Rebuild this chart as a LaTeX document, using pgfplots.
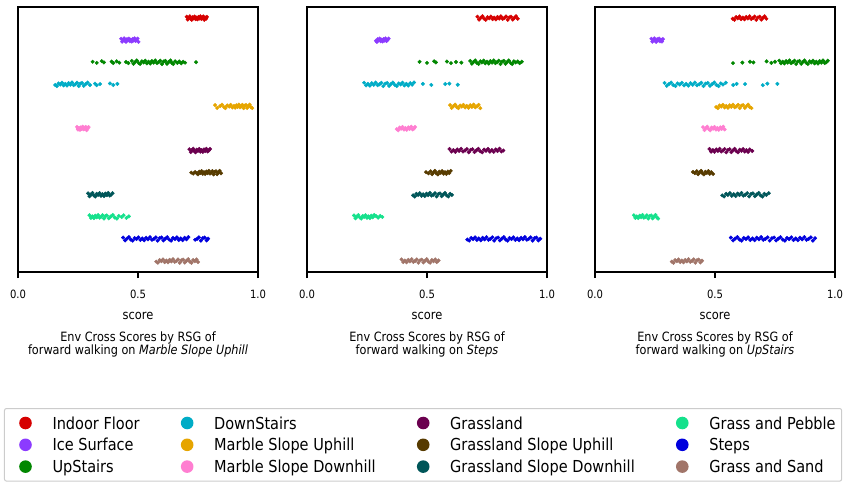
\documentclass[border=0pt]{standalone}
\usepackage{fontspec}
\setmainfont{DejaVu Sans}[FakeStretch=0.88]
\usepackage{pgfplots}
\pgfplotsset{compat=1.18}
\definecolor{cIF}{HTML}{D60000}
\definecolor{cIce}{HTML}{8C3BFF}
\definecolor{cUp}{HTML}{018700}
\definecolor{cDown}{HTML}{00ACC6}
\definecolor{cMSU}{HTML}{E6A500}
\definecolor{cMSD}{HTML}{FF7ED1}
\definecolor{cG}{HTML}{6B004F}
\definecolor{cGSU}{HTML}{573B00}
\definecolor{cGSD}{HTML}{005659}
\definecolor{cGP}{HTML}{15E18C}
\definecolor{cSt}{HTML}{0000DD}
\definecolor{cGS}{HTML}{A17569}
\pgfplotsset{
  panel/.style={
    width=240bp, height=265bp, scale only axis, clip=false,
    xmin=0, xmax=1, ymin=-0.5, ymax=11.5,
    xtick={0,0.5,1}, xticklabels={0.0,0.5,1.0},
    ytick=\empty, xtick pos=bottom,
    tick align=outside, major tick length=6bp,
    axis line style={line width=1.1bp},
    xtick style={draw=black, line width=1.1bp},
    xticklabel style={font=\fontsize{11.4bp}{13bp}\selectfont, anchor=center, inner sep=0pt, yshift=-16bp},
    xlabel={score},
    xlabel style={font=\fontsize{13bp}{15bp}\selectfont, at={(0.5,-0.165)}, anchor=center},
    title style={font=\fontsize{12.8bp}{13.8bp}\selectfont, align=center, at={(0.5,-0.296)}, anchor=center, yshift=0pt},
  },
  strip/.style={only marks, mark=*, mark size=1.8bp, color=#1, forget plot},
}
\newcommand{\legdot}[1]{\addlegendimage{legend image code/.code={\path[draw=none] (-15bp,0bp) -- (15bp,0bp); \fill[draw=none,#1] (0bp,0bp) circle (6.3bp);}}}
\newcommand{\ticksof}[1]{\draw[black, line width=1.1bp] (#1.south west) -- ++(0,-6bp) (#1.south) -- ++(0,-6bp) (#1.south east) -- ++(0,-6bp);}
\begin{document}
\begin{tikzpicture}
\useasboundingbox (0,0) rectangle (845bp,-482bp);
%================ Panel 1
\begin{axis}[panel, name=ax1, at={(18bp,-7bp)}, anchor=north west,
  title={Env Cross Scores by RSG of\\forward walking on \textit{Marble Slope Uphill}},
  legend columns=4, legend cell align=left,
  legend style={at={(-0.05833,-0.5132)}, anchor=north west, draw=black!20, line width=1bp,
    rounded corners=2bp, inner xsep=6bp, inner ysep=8.2bp, row sep=9.2bp,
    font=\fontsize{16.5bp}{19bp}\selectfont,
    nodes={inner sep=0pt, text height=12bp, text depth=0bp},
    /tikz/every odd column/.append style={column sep=12bp},
    /tikz/every even column/.append style={column sep=32.5bp}}]
\addplot[strip=cIF] coordinates {(0.703,11.06)(0.707,10.93)(0.712,11.01)(0.716,11.08)(0.719,10.97)(0.724,10.92)(0.728,11.04)(0.731,10.99)(0.736,11.07)(0.740,10.95)(0.743,11.02)(0.748,10.94)(0.752,11.05)(0.755,10.98)(0.760,11.08)(0.764,10.96)(0.767,11.00)(0.772,11.07)(0.776,10.92)(0.779,11.03)(0.784,10.97)(0.787,11.05)};
\addplot[strip=cIce] coordinates {(0.430,10.06)(0.434,9.93)(0.438,10.01)(0.442,10.08)(0.446,9.97)(0.450,9.92)(0.454,10.04)(0.458,9.99)(0.462,10.07)(0.466,9.95)(0.470,10.02)(0.474,9.94)(0.478,10.05)(0.482,9.98)(0.486,10.08)(0.490,9.96)(0.494,10.00)(0.498,10.07)(0.502,9.92)};
\addplot[strip=cUp] coordinates {(0.311,9.02)(0.328,8.97)(0.349,9.05)(0.358,8.99)(0.390,9.03)(0.397,8.96)(0.411,9.04)(0.422,8.98)(0.450,9.01)(0.460,8.96)
(0.474,9.06)(0.481,8.93)(0.488,9.01)(0.495,9.08)(0.502,8.97)(0.509,8.92)(0.516,9.04)(0.523,8.99)(0.530,9.07)(0.537,8.95)(0.544,9.02)(0.551,8.94)(0.558,9.05)(0.565,8.98)(0.572,9.08)(0.579,8.96)(0.586,9.00)(0.593,9.07)(0.600,8.92)(0.607,9.03)(0.614,9.06)(0.621,8.93)(0.628,9.01)(0.635,9.08)(0.641,8.97)(0.647,8.92)
(0.655,9.04)(0.664,8.97)(0.672,9.03)(0.680,8.95)(0.688,9.02)(0.696,8.98)(0.742,9.00)};
\addplot[strip=cDown] coordinates {(0.155,7.97)(0.162,7.92)(0.169,8.04)(0.176,7.99)(0.183,8.07)(0.190,7.95)(0.197,8.02)(0.204,7.94)(0.211,8.05)(0.218,7.98)(0.225,8.08)(0.232,7.96)(0.239,8.00)(0.246,8.07)(0.253,7.92)(0.260,8.03)(0.267,8.06)(0.274,7.93)(0.282,8.01)(0.290,8.08)(0.300,7.97)
(0.321,8.03)(0.328,7.96)(0.342,8.01)(0.383,8.04)(0.397,7.97)(0.414,8.02)};
\addplot[strip=cMSU] coordinates {(0.821,7.06)(0.830,6.93)(0.842,7.01)(0.850,7.08)(0.858,6.97)(0.864,6.92)(0.872,7.04)(0.880,6.99)(0.886,7.07)(0.893,6.95)(0.900,7.02)(0.905,6.94)(0.910,7.05)(0.915,6.98)(0.920,7.08)(0.925,6.96)(0.930,7.00)(0.935,7.07)(0.940,6.92)(0.945,7.03)(0.950,7.06)(0.955,6.93)(0.960,7.01)(0.965,7.08)(0.970,6.97)(0.976,6.92)};
\addplot[strip=cMSD] coordinates {(0.246,6.07)(0.250,5.95)(0.254,6.02)(0.258,5.94)(0.262,6.05)(0.266,5.98)(0.270,6.08)(0.274,5.96)(0.278,6.00)(0.282,6.07)(0.286,5.92)(0.290,6.03)(0.294,6.06)(0.250,6.00)(0.262,5.97)(0.278,6.03)(0.290,5.99)};
\addplot[strip=cG] coordinates {(0.714,5.06)(0.720,4.93)(0.725,5.01)(0.730,5.08)(0.735,4.97)(0.740,4.92)(0.745,5.04)(0.750,4.99)(0.755,5.07)(0.760,4.95)(0.765,5.02)(0.770,4.94)(0.775,5.05)(0.780,4.98)(0.785,5.08)(0.790,4.96)(0.795,5.00)(0.800,5.07)};
\addplot[strip=cGSU] coordinates {(0.722,4.00)(0.730,3.96)(0.738,4.03)
(0.745,3.97)(0.750,3.92)(0.755,4.04)(0.760,3.99)(0.765,4.07)(0.770,3.95)(0.775,4.02)(0.780,3.94)(0.785,4.05)(0.790,3.98)(0.795,4.08)(0.800,3.96)(0.805,4.00)(0.810,4.07)(0.815,3.92)(0.820,4.03)(0.825,4.06)(0.830,3.93)(0.835,4.01)(0.840,4.08)(0.846,3.97)};
\addplot[strip=cGSD] coordinates {(0.292,3.06)(0.298,2.93)(0.304,3.01)(0.310,3.08)(0.316,2.97)(0.322,2.92)(0.328,3.04)(0.334,2.99)(0.340,3.07)(0.346,2.95)(0.352,3.02)(0.358,2.94)(0.364,3.05)(0.370,2.98)(0.376,3.08)(0.382,2.96)(0.388,3.00)(0.394,3.07)};
\addplot[strip=cGP] coordinates {(0.298,2.07)(0.304,1.95)(0.310,2.02)(0.316,1.94)(0.322,2.05)(0.328,1.98)(0.334,2.08)(0.340,1.96)(0.346,2.00)(0.352,2.07)(0.358,1.92)(0.364,2.03)(0.370,2.06)(0.378,1.93)(0.386,2.01)(0.395,2.08)(0.403,1.97)(0.412,1.92)(0.420,2.04)(0.432,1.99)(0.440,2.07)(0.452,1.95)(0.462,2.02)};
\addplot[strip=cSt] coordinates {(0.438,1.06)(0.446,0.93)(0.454,1.01)(0.462,1.08)(0.470,0.97)(0.478,0.92)(0.486,1.04)(0.494,0.99)(0.502,1.07)(0.510,0.95)(0.518,1.02)(0.526,0.94)(0.534,1.05)(0.542,0.98)(0.550,1.08)(0.558,0.96)(0.566,1.00)(0.574,1.07)(0.582,0.92)(0.590,1.03)(0.598,1.06)(0.606,0.93)(0.614,1.01)(0.622,1.08)(0.630,0.97)(0.638,0.92)(0.646,1.04)(0.654,0.99)(0.662,1.07)(0.670,0.95)(0.678,1.02)(0.686,0.94)(0.694,1.05)(0.702,0.98)(0.710,1.08)
(0.738,0.96)(0.746,1.00)(0.754,1.07)(0.762,0.92)(0.770,1.03)(0.778,1.06)(0.786,0.93)(0.792,1.01)};
\addplot[strip=cGS] coordinates {(0.576,-0.03)(0.583,-0.08)(0.590,0.04)(0.597,-0.01)(0.604,0.07)(0.611,-0.05)(0.618,0.02)(0.625,-0.06)(0.632,0.05)(0.639,-0.02)(0.646,0.08)(0.653,-0.04)(0.660,0.00)(0.667,0.07)(0.674,-0.08)(0.681,0.03)(0.688,0.06)(0.695,-0.07)(0.702,0.01)(0.709,0.08)(0.716,-0.03)(0.723,-0.08)(0.730,0.04)(0.737,-0.01)(0.744,0.07)(0.750,-0.05)};
% legend (row-major order)
\legdot{cIF}\addlegendentry{Indoor Floor}
\legdot{cDown}\addlegendentry{DownStairs}
\legdot{cG}\addlegendentry{Grassland}
\legdot{cGP}\addlegendentry{Grass and Pebble}
\legdot{cIce}\addlegendentry{Ice Surface}
\legdot{cMSU}\addlegendentry{Marble Slope Uphill}
\legdot{cGSU}\addlegendentry{Grassland Slope Uphill}
\legdot{cSt}\addlegendentry{Steps}
\legdot{cUp}\addlegendentry{UpStairs}
\legdot{cMSD}\addlegendentry{Marble Slope Downhill}
\legdot{cGSD}\addlegendentry{Grassland Slope Downhill}
\legdot{cGS}\addlegendentry{Grass and Sand}
\end{axis}
\ticksof{ax1}
%================ Panel 2
\begin{axis}[panel, name=ax2, at={(307bp,-7bp)}, anchor=north west,
  title={Env Cross Scores by RSG of\\forward walking on \textit{Steps}}]
\addplot[strip=cIF] coordinates {(0.710,11.06)(0.717,10.93)(0.724,11.01)(0.731,11.08)(0.738,10.97)(0.745,10.92)(0.752,11.04)(0.759,10.99)(0.766,11.07)(0.773,10.95)(0.780,11.02)(0.787,10.94)(0.794,11.05)(0.801,10.98)(0.808,11.08)(0.815,10.96)(0.822,11.00)(0.829,11.07)(0.836,10.92)(0.843,11.03)(0.850,11.06)(0.857,10.93)(0.864,11.01)(0.871,11.08)(0.878,10.97)};
\addplot[strip=cIce] coordinates {(0.287,9.97)(0.291,9.92)(0.295,10.04)(0.299,9.99)(0.303,10.07)(0.307,9.95)(0.311,10.02)(0.315,9.94)(0.319,10.05)(0.323,9.98)(0.327,10.08)(0.331,9.96)(0.335,10.00)(0.340,10.07)};
\addplot[strip=cUp] coordinates {(0.469,9.02)(0.500,8.97)(0.530,9.04)(0.537,8.99)(0.583,9.03)(0.600,8.96)(0.621,9.01)(0.643,8.98)
(0.680,9.06)(0.687,8.93)(0.694,9.01)(0.701,9.08)(0.708,8.97)(0.715,8.92)(0.722,9.04)(0.729,8.99)(0.736,9.07)(0.743,8.95)(0.750,9.02)(0.757,8.94)(0.764,9.05)(0.771,8.98)(0.778,9.08)(0.785,8.96)(0.792,9.00)(0.799,9.07)(0.806,8.92)(0.813,9.03)(0.820,9.06)(0.827,8.93)(0.834,9.01)(0.841,9.08)(0.848,8.97)(0.855,8.92)(0.862,9.04)(0.869,8.99)
(0.878,9.03)(0.886,8.96)(0.895,9.02)};
\addplot[strip=cDown] coordinates {(0.238,8.07)(0.246,7.95)(0.254,8.02)(0.262,7.94)(0.270,8.05)(0.278,7.98)(0.286,8.08)(0.294,7.96)(0.302,8.00)(0.310,8.07)(0.318,7.92)(0.326,8.03)(0.334,8.06)(0.342,7.93)(0.350,8.01)(0.358,8.08)(0.366,7.97)(0.374,7.92)(0.382,8.04)(0.390,7.99)(0.398,8.07)(0.406,7.95)(0.414,8.02)(0.422,7.94)(0.430,8.05)(0.438,7.98)(0.446,8.08)
(0.483,8.02)(0.518,7.97)(0.576,8.01)(0.593,8.03)(0.628,7.98)};
\addplot[strip=cMSU] coordinates {(0.596,7.06)(0.603,6.93)(0.610,7.01)(0.617,7.08)(0.624,6.97)(0.631,6.92)(0.638,7.04)(0.645,6.99)(0.652,7.07)(0.659,6.95)(0.666,7.02)(0.673,6.94)(0.680,7.05)(0.687,6.98)(0.694,7.08)(0.701,6.96)(0.708,7.00)(0.715,7.07)(0.722,6.92)};
\addplot[strip=cMSD] coordinates {(0.374,5.97)(0.380,5.92)(0.386,6.04)(0.392,5.99)(0.398,6.07)(0.404,5.95)(0.410,6.02)(0.416,5.94)(0.422,6.05)(0.428,5.98)(0.434,6.08)(0.440,5.96)(0.446,6.00)(0.450,6.07)};
\addplot[strip=cG] coordinates {(0.594,5.07)(0.602,4.95)(0.610,5.02)(0.618,4.94)(0.626,5.05)(0.634,4.98)(0.642,5.08)(0.650,4.96)(0.658,5.00)(0.666,5.07)(0.674,4.92)(0.682,5.03)(0.690,5.06)(0.698,4.93)(0.706,5.01)(0.714,5.08)(0.722,4.97)(0.730,4.92)(0.738,5.04)(0.746,4.99)(0.754,5.07)(0.762,4.95)(0.770,5.02)(0.778,4.94)(0.786,5.05)(0.794,4.98)(0.802,5.08)(0.810,4.96)(0.818,5.00)};
\addplot[strip=cGSU] coordinates {(0.496,4.02)(0.506,3.97)
(0.515,4.06)(0.521,3.93)(0.527,4.01)(0.533,4.08)(0.539,3.97)(0.545,3.92)(0.551,4.04)(0.557,3.99)(0.563,4.07)(0.569,3.95)(0.575,4.02)(0.581,3.94)(0.587,4.05)(0.593,3.98)(0.599,4.08)};
\addplot[strip=cGSD] coordinates {(0.442,2.97)(0.449,2.92)(0.456,3.04)(0.463,2.99)(0.470,3.07)(0.477,2.95)(0.484,3.02)(0.491,2.94)(0.498,3.05)(0.505,2.98)(0.512,3.08)(0.519,2.96)(0.526,3.00)(0.533,3.07)(0.540,2.92)(0.547,3.03)(0.554,3.06)(0.561,2.93)(0.568,3.01)(0.575,3.08)(0.582,2.97)(0.589,2.92)(0.596,3.04)(0.604,2.99)};
\addplot[strip=cGP] coordinates {(0.196,2.06)(0.202,1.93)(0.208,2.01)(0.214,2.08)(0.220,1.97)(0.226,1.92)(0.232,2.04)(0.238,1.99)(0.244,2.07)(0.250,1.95)(0.256,2.02)(0.262,1.94)(0.268,2.05)(0.274,1.98)(0.280,2.08)
(0.288,2.03)(0.296,1.96)(0.305,2.04)(0.314,1.99)};
\addplot[strip=cSt] coordinates {(0.668,0.97)(0.676,0.92)(0.684,1.04)(0.692,0.99)(0.700,1.07)(0.708,0.95)(0.716,1.02)(0.724,0.94)(0.732,1.05)(0.740,0.98)(0.748,1.08)(0.756,0.96)(0.764,1.00)(0.772,1.07)(0.780,0.92)(0.788,1.03)(0.796,1.06)(0.804,0.93)(0.812,1.01)(0.820,1.08)(0.828,0.97)(0.836,0.92)(0.844,1.04)(0.852,0.99)(0.860,1.07)(0.868,0.95)(0.876,1.02)(0.884,0.94)(0.892,1.05)(0.900,0.98)(0.908,1.08)(0.916,0.96)(0.924,1.00)(0.932,1.07)(0.940,0.92)(0.948,1.03)(0.956,1.06)(0.964,0.93)(0.972,1.01)};
\addplot[strip=cGS] coordinates {(0.394,0.07)(0.401,-0.05)(0.408,0.02)(0.415,-0.06)(0.422,0.05)(0.429,-0.02)(0.436,0.08)(0.443,-0.04)(0.450,0.00)(0.457,0.07)(0.464,-0.08)(0.471,0.03)(0.478,0.06)(0.485,-0.07)(0.492,0.01)(0.499,0.08)(0.506,-0.03)(0.513,-0.08)(0.520,0.04)(0.527,-0.01)(0.534,0.07)(0.541,-0.05)(0.548,0.02)};
\end{axis}
\ticksof{ax2}
%================ Panel 3
\begin{axis}[panel, name=ax3, at={(595bp,-7bp)}, anchor=north west,
  title={Env Cross Scores by RSG of\\forward walking on \textit{UpStairs}}]
\addplot[strip=cIF] coordinates {(0.574,10.97)(0.581,10.92)(0.588,11.04)(0.595,10.99)(0.602,11.07)(0.609,10.95)(0.616,11.02)(0.623,10.94)(0.630,11.05)(0.637,10.98)(0.644,11.08)(0.651,10.96)(0.658,11.00)(0.665,11.07)(0.672,10.92)(0.679,11.03)(0.686,11.06)(0.693,10.93)(0.700,11.01)(0.707,11.08)(0.714,10.97)};
\addplot[strip=cIce] coordinates {(0.235,10.06)(0.239,9.93)(0.243,10.01)(0.247,10.08)(0.251,9.97)(0.255,9.92)(0.259,10.04)(0.263,9.99)(0.267,10.07)(0.271,9.95)(0.275,10.02)(0.279,9.94)(0.283,10.05)};
\addplot[strip=cUp] coordinates {(0.575,8.96)(0.614,8.98)(0.646,9.02)(0.660,8.99)(0.715,9.04)(0.735,8.97)(0.750,9.02)
(0.768,9.07)(0.775,8.95)(0.782,9.02)(0.789,8.94)(0.796,9.05)(0.803,8.98)(0.810,9.08)(0.817,8.96)(0.824,9.00)(0.831,9.07)(0.838,8.92)(0.845,9.03)(0.852,9.06)(0.859,8.93)(0.866,9.01)(0.873,9.08)(0.880,8.97)(0.887,8.92)(0.894,9.04)(0.901,8.99)(0.908,9.07)(0.915,8.95)(0.922,9.02)(0.929,8.94)(0.936,9.05)(0.943,8.98)(0.950,9.08)(0.957,8.96)(0.964,9.00)(0.970,9.07)};
\addplot[strip=cDown] coordinates {(0.290,8.06)(0.299,7.93)(0.308,8.01)(0.317,8.08)(0.326,7.97)(0.335,7.92)(0.344,8.04)(0.353,7.99)(0.362,8.07)(0.371,7.95)(0.380,8.02)(0.389,7.94)(0.398,8.05)(0.407,7.98)(0.416,8.08)(0.425,7.96)(0.434,8.00)(0.443,8.07)(0.452,7.92)(0.461,8.03)(0.470,8.06)(0.479,7.93)(0.488,8.01)(0.497,8.08)(0.506,7.97)(0.515,7.92)(0.524,8.04)(0.533,7.99)(0.545,8.07)
(0.576,7.97)(0.590,8.02)(0.625,8.01)(0.699,7.96)(0.718,8.03)(0.760,8.02)};
\addplot[strip=cMSU] coordinates {(0.505,6.97)(0.512,6.92)(0.519,7.04)(0.526,6.99)(0.533,7.07)(0.540,6.95)(0.547,7.02)(0.554,6.94)(0.561,7.05)(0.568,6.98)(0.575,7.08)(0.582,6.96)(0.589,7.00)(0.596,7.07)(0.603,6.92)(0.610,7.03)(0.617,7.06)(0.624,6.93)(0.631,7.01)(0.638,7.08)(0.645,6.97)(0.652,6.92)};
\addplot[strip=cMSD] coordinates {(0.450,6.06)(0.456,5.93)(0.462,6.01)(0.468,6.08)(0.474,5.97)(0.480,5.92)(0.486,6.04)(0.492,5.99)(0.498,6.07)(0.504,5.95)(0.510,6.02)(0.516,5.94)(0.522,6.05)(0.528,5.98)(0.534,6.08)(0.540,5.96)};
\addplot[strip=cG] coordinates {(0.477,5.07)(0.484,4.95)(0.491,5.02)(0.498,4.94)(0.505,5.05)(0.512,4.98)(0.519,5.08)(0.526,4.96)(0.533,5.00)(0.540,5.07)(0.547,4.92)(0.554,5.03)(0.561,5.06)(0.568,4.93)(0.575,5.01)(0.582,5.08)(0.589,4.97)(0.596,4.92)(0.603,5.04)(0.610,4.99)(0.617,5.07)(0.624,4.95)(0.631,5.02)(0.638,4.94)(0.645,5.05)(0.655,4.98)};
\addplot[strip=cGSU] coordinates {(0.408,4.03)(0.416,3.98)
(0.424,4.06)(0.430,3.93)(0.436,4.01)(0.442,4.08)(0.448,3.97)(0.454,3.92)(0.460,4.04)(0.466,3.99)(0.472,4.07)(0.478,3.95)(0.484,4.02)(0.492,3.94)};
\addplot[strip=cGSD] coordinates {(0.530,2.97)(0.538,2.92)(0.546,3.04)(0.554,2.99)(0.562,3.07)(0.570,2.95)(0.578,3.02)(0.586,2.94)(0.594,3.05)(0.602,2.98)(0.610,3.08)(0.618,2.96)(0.626,3.00)(0.634,3.07)(0.642,2.92)(0.650,3.03)(0.658,3.06)(0.666,2.93)(0.674,3.01)(0.682,3.08)(0.690,2.97)(0.698,2.92)(0.706,3.04)(0.714,2.99)(0.724,3.07)};
\addplot[strip=cGP] coordinates {(0.162,2.07)(0.168,1.95)(0.174,2.02)(0.180,1.94)(0.186,2.05)(0.192,1.98)(0.198,2.08)(0.204,1.96)(0.210,2.00)(0.216,2.07)(0.222,1.92)(0.228,2.03)(0.234,2.06)(0.240,1.93)(0.246,2.01)(0.252,2.08)(0.258,1.97)(0.263,1.92)};
\addplot[strip=cSt] coordinates {(0.566,1.06)(0.575,0.93)(0.584,1.01)(0.593,1.08)(0.602,0.97)(0.611,0.92)(0.620,1.04)(0.629,0.99)(0.638,1.07)(0.647,0.95)(0.656,1.02)(0.665,0.94)(0.674,1.05)(0.683,0.98)(0.692,1.08)(0.701,0.96)(0.710,1.00)(0.719,1.07)(0.728,0.92)(0.737,1.03)(0.746,1.06)(0.755,0.93)(0.764,1.01)(0.773,1.08)(0.782,0.97)(0.791,0.92)(0.800,1.04)(0.809,0.99)(0.818,1.07)(0.827,0.95)(0.836,1.02)(0.845,0.94)(0.854,1.05)(0.863,0.98)(0.872,1.08)(0.881,0.96)(0.890,1.00)(0.899,1.07)(0.908,0.92)(0.917,1.03)};
\addplot[strip=cGS] coordinates {(0.320,-0.03)(0.327,-0.08)(0.334,0.04)(0.341,-0.01)(0.348,0.07)(0.355,-0.05)(0.362,0.02)(0.369,-0.06)(0.376,0.05)(0.383,-0.02)(0.390,0.08)(0.397,-0.04)(0.404,0.00)(0.411,0.07)(0.418,-0.08)(0.425,0.03)(0.432,0.06)(0.439,-0.07)(0.446,0.01)};
\end{axis}
\ticksof{ax3}
\end{tikzpicture}
\end{document}
